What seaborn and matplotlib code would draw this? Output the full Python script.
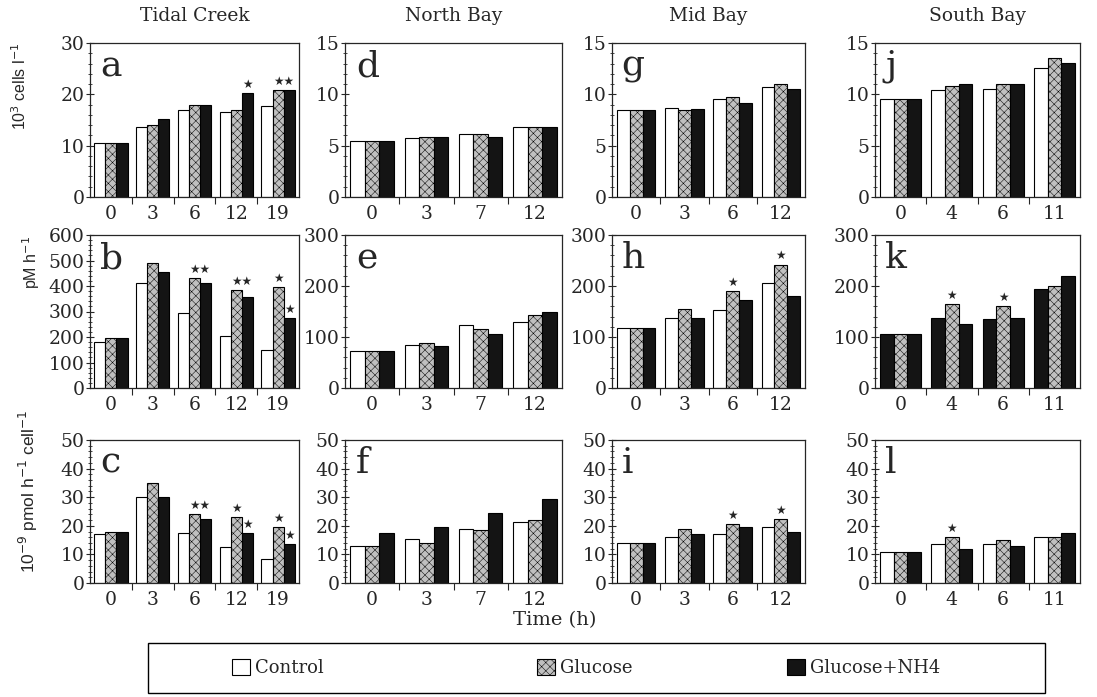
import matplotlib
matplotlib.use("Agg")
import matplotlib.pyplot as plt
import seaborn as sns
import pandas as pd
from matplotlib.patches import Patch, Rectangle
from matplotlib.ticker import AutoMinorLocator

treatments = ["Control", "Glucose", "Glucose+NH4"]
sites = ["Tidal Creek", "North Bay", "Mid Bay", "South Bay"]

times_tc = ["0", "3", "6", "12", "19"]
times_nb = ["0", "3", "7", "12"]
times_mb = ["0", "3", "6", "12"]
times_sb = ["0", "4", "6", "11"]

# row 1: abundance, 10^3 cells l-1
a_ctrl = [10.5, 13.7, 17.0, 16.5, 17.8]
a_gluc = [10.5, 14.0, 18.0, 17.0, 20.8]
a_nh4 = [10.5, 15.2, 18.0, 20.3, 20.8]
d_ctrl = [5.5, 5.7, 6.1, 6.8]
d_gluc = [5.5, 5.8, 6.1, 6.8]
d_nh4 = [5.5, 5.8, 5.8, 6.8]
g_ctrl = [8.5, 8.7, 9.5, 10.7]
g_gluc = [8.5, 8.5, 9.7, 11.0]
g_nh4 = [8.5, 8.6, 9.2, 10.5]
j_ctrl = [9.5, 10.4, 10.5, 12.6]
j_gluc = [9.5, 10.8, 11.0, 13.5]
j_nh4 = [9.5, 11.0, 11.0, 13.1]

# row 2: production, pM h-1
b_ctrl = [180, 410, 295, 205, 150]
b_gluc = [195, 490, 430, 385, 395]
b_nh4 = [195, 455, 410, 355, 275]
e_ctrl = [73, 85, 124, 130]
e_gluc = [73, 88, 116, 143]
e_nh4 = [73, 82, 105, 150]
h_ctrl = [118, 138, 152, 205]
h_gluc = [118, 155, 190, 242]
h_nh4 = [118, 138, 172, 180]
k_ctrl = [105, 138, 135, 195]
k_gluc = [105, 165, 160, 200]
k_nh4 = [105, 125, 138, 220]

# row 3: specific production, 10^-9 pmol h-1 cell-1
c_ctrl = [17.0, 30.0, 17.5, 12.5, 8.5]
c_gluc = [18.0, 35.0, 24.0, 23.0, 19.5]
c_nh4 = [18.0, 30.0, 22.5, 17.5, 13.5]
f_ctrl = [13.0, 15.5, 19.0, 21.5]
f_gluc = [13.0, 14.0, 18.5, 22.0]
f_nh4 = [17.5, 19.5, 24.5, 29.5]
i_ctrl = [14.0, 16.0, 17.0, 19.5]
i_gluc = [14.0, 19.0, 20.5, 22.5]
i_nh4 = [14.0, 17.0, 19.5, 18.0]
l_ctrl = [11.0, 13.5, 13.5, 16.0]
l_gluc = [11.0, 16.0, 15.0, 16.0]
l_nh4 = [11.0, 12.0, 13.0, 17.5]

# significance marks: (time index, bar, label)
a_stars = [(3, "n", "*"), (4, "gn", "**")]
b_stars = [(2, "gn", "**"), (3, "gn", "**"), (4, "g", "*"), (4, "n", "*")]
c_stars = [(2, "gn", "**"), (3, "g", "*"), (3, "n", "*"), (4, "g", "*"), (4, "n", "*")]
h_stars = [(2, "g", "*"), (3, "g", "*")]
i_stars = [(2, "g", "*"), (3, "g", "*")]
k_stars = [(1, "g", "*"), (2, "g", "*")]
l_stars = [(1, "g", "*")]

W, H = 1097, 697
SERIF = "DejaVu Serif"
SANS = "Liberation Sans"

sns.set_style("ticks")
plt.rcParams["font.family"] = [SERIF, "DejaVu Sans"]
plt.rcParams["hatch.linewidth"] = 0.35

fig = plt.figure(figsize=(W / 100, H / 100), dpi=100)


def px_axes(l, t, r, b):
    return fig.add_axes([l / W, 1 - b / H, (r - l) / W, (b - t) / H])


def draw_panel(ax, times, ctrl, gluc, nh4, ytop, ystep, letter, stars, ctrl_color="white"):
    df = pd.DataFrame({
        "time": times * 3,
        "treatment": [t for t in treatments for _ in times],
        "value": ctrl + gluc + nh4,
    })
    sns.barplot(data=df, x="time", y="value", hue="treatment", order=times,
                hue_order=treatments, palette=[ctrl_color, "#c0c0c0", "#141414"],
                saturation=1, edgecolor="black", linewidth=0.8, width=0.8,
                errorbar=None, legend=False, ax=ax)
    for bar in ax.containers[1]:
        bar.set_hatch("xxxx")

    n = len(times)
    for gi, which, label in stars:
        gb = ax.containers[1][gi]
        nb = ax.containers[2][gi]
        if which == "g":
            x, y = gb.get_x() + gb.get_width() / 2, gb.get_height()
        elif which == "n":
            x, y = nb.get_x() + nb.get_width() / 2, nb.get_height()
        else:
            x, y = nb.get_x(), max(gb.get_height(), nb.get_height())
        ax.text(x, y + ytop * 0.015, label.replace("*", "★"), ha="center", va="bottom",
                fontsize=8.5, family="DejaVu Sans")

    ax.set_xlim(-0.5, n - 0.5)
    ax.set_ylim(0, ytop)
    ax.set_yticks(range(0, ytop + 1, ystep))
    ax.yaxis.set_minor_locator(AutoMinorLocator(5))
    ax.set_xticks(range(n))
    ax.set_xticklabels(times)
    ax.set_xticks([i + 0.5 for i in range(n - 1)], minor=True)
    ax.tick_params(axis="x", which="major", length=0, pad=6, labelsize=13.5)
    ax.tick_params(axis="x", which="minor", length=5, direction="out", width=0.8)
    ax.tick_params(axis="y", which="major", length=6, direction="inout", width=0.8,
                   labelsize=13.5, pad=1)
    ax.tick_params(axis="y", which="minor", length=3, direction="inout", width=0.6)
    ax.set_xlabel("")
    ax.set_ylabel("")
    for s in ax.spines.values():
        s.set_linewidth(0.9)
        s.set_visible(True)
    ax.text(0.05, 0.96, letter, transform=ax.transAxes, ha="left", va="top", fontsize=26)


cols = [(90, 299), (345, 562), (612, 805), (875, 1080)]
rows = [(43, 197), (235, 388), (440, 583)]
ax_grid = [[px_axes(c[0], r[0], c[1], r[1]) for c in cols] for r in rows]

draw_panel(ax_grid[0][0], times_tc, a_ctrl, a_gluc, a_nh4, 30, 10, "a", a_stars)
draw_panel(ax_grid[1][0], times_tc, b_ctrl, b_gluc, b_nh4, 600, 100, "b", b_stars)
draw_panel(ax_grid[2][0], times_tc, c_ctrl, c_gluc, c_nh4, 50, 10, "c", c_stars)
draw_panel(ax_grid[0][1], times_nb, d_ctrl, d_gluc, d_nh4, 15, 5, "d", [])
draw_panel(ax_grid[1][1], times_nb, e_ctrl, e_gluc, e_nh4, 300, 100, "e", [])
draw_panel(ax_grid[2][1], times_nb, f_ctrl, f_gluc, f_nh4, 50, 10, "f", [])
draw_panel(ax_grid[0][2], times_mb, g_ctrl, g_gluc, g_nh4, 15, 5, "g", [])
draw_panel(ax_grid[1][2], times_mb, h_ctrl, h_gluc, h_nh4, 300, 100, "h", h_stars)
draw_panel(ax_grid[2][2], times_mb, i_ctrl, i_gluc, i_nh4, 50, 10, "i", i_stars)
draw_panel(ax_grid[0][3], times_sb, j_ctrl, j_gluc, j_nh4, 15, 5, "j", [])
draw_panel(ax_grid[1][3], times_sb, k_ctrl, k_gluc, k_nh4, 300, 100, "k", k_stars,
           ctrl_color="#141414")
draw_panel(ax_grid[2][3], times_sb, l_ctrl, l_gluc, l_nh4, 50, 10, "l", l_stars)

for ax, site in zip(ax_grid[0], sites):
    ax.set_title(site, fontsize=13.5, pad=16)

ylabels = ["10$^3$ cells l$^{-1}$", "pM h$^{-1}$", "10$^{-9}$ pmol h$^{-1}$ cell$^{-1}$"]
label_y = [0.72, 0.82, 0.64]
label_x = [-0.29, -0.23, -0.24]
label_size = [11.5, 11.5, 12.5]
for ax, lab, xx, yy, fs in zip([r[0] for r in ax_grid], ylabels, label_x, label_y, label_size):
    ax.set_ylabel(lab, family=SANS, fontsize=fs)
    ax.yaxis.set_label_coords(xx, yy)

fig.text(555 / W, 1 - 620 / H, "Time (h)", ha="center", va="center", fontsize=14)

# legend: one entry per box slot, spaced as in the original figure
handles = [
    Patch(facecolor="white", edgecolor="black", linewidth=0.8),
    Patch(facecolor="#c0c0c0", edgecolor="black", linewidth=0.8, hatch="xxxx"),
    Patch(facecolor="#141414", edgecolor="black", linewidth=0.8),
]
legend_x = [232, 537, 787]
for h, lab, lx in zip(handles, treatments, legend_x):
    fig.legend([h], [lab], loc="center left", bbox_to_anchor=(lx / W, 1 - 668 / H),
               frameon=False, fontsize=13, handlelength=1.0, handleheight=1.0,
               handletextpad=0.3, borderpad=0, borderaxespad=0)
fig.patches.append(Rectangle((148 / W, 1 - 693 / H), 897 / W, 50 / H,
                             transform=fig.transFigure, fill=False,
                             edgecolor="black", linewidth=1.0))

fig.savefig("out.png", dpi=100)
